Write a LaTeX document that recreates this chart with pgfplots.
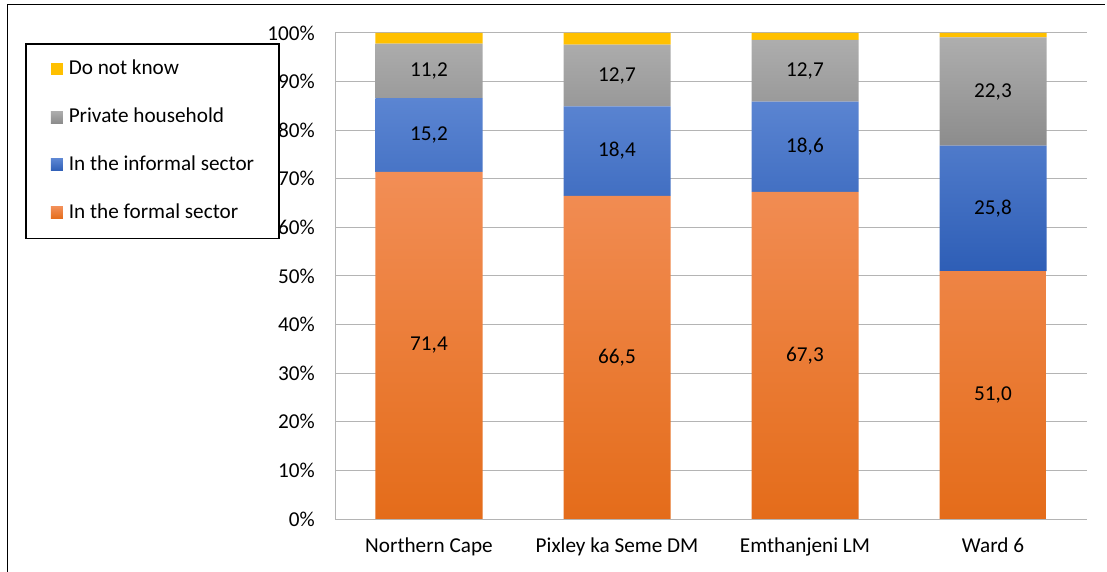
\documentclass[border=0pt]{standalone}
\usepackage{pgfplots}
\pgfplotsset{compat=1.18}
\usepackage{pgfplotstable}
\usepackage{fontspec}
\setmainfont{Carlito}

\definecolor{orTop}{HTML}{F28E56}
\definecolor{orBot}{HTML}{E46C1A}
\definecolor{blTop}{HTML}{5B85D2}
\definecolor{blBot}{HTML}{2E5EB6}
\definecolor{grTop}{HTML}{AEAEAE}
\definecolor{grBot}{HTML}{8C8C8C}
\definecolor{yel}{HTML}{FFC000}
\definecolor{gridc}{HTML}{B4B4B4}

% employment sector shares (%)
\pgfplotstableread{
x formal informal household dnk
0 71.4 15.2 11.2 2.2
1 66.5 18.4 12.7 2.4
2 67.3 18.6 12.7 1.4
3 51.0 25.8 22.3 0.9
}\shares

\begin{document}
\begin{tikzpicture}
\fontsize{21.2bp}{25bp}\selectfont
\useasboundingbox (0,0) rectangle (1107bp,572bp);
\draw[line width=1.5bp] (7.5bp,0) -- (7.5bp,567.5bp) -- (1105bp,567.5bp);
\begin{axis}[
  at={(335bp,53bp)}, anchor=south west,
  scale only axis, width=752bp, height=486bp,
  ybar stacked, bar width=107bp,
  xmin=-0.5, xmax=3.5, ymin=0, ymax=100,
  xtick=data,
  xticklabels={Northern Cape, Pixley ka Seme DM, Emthanjeni LM, Ward 6},
  ytick={0,10,...,100},
  yticklabel={\pgfmathprintnumber{\tick}\%},
  /pgf/number format/assume math mode=true,
  major tick length=0pt,
  ymajorgrids, major grid style={gridc, line width=1bp},
  axis x line*=bottom, axis y line*=left,
  axis line style={gridc, line width=1bp},
  yticklabel style={xshift=-13bp},
  xticklabel style={yshift=-12bp},
  nodes near coords={\pgfmathprintnumber[fixed,fixed zerofill,precision=1,use comma]{\pgfplotspointmeta}},
  every node near coord/.style={anchor=center, text=black},
  legend image code/.code={\fill[#1,draw=none] (0bp,-6bp) rectangle (12bp,6bp); \path (18bp,0bp);},
  reverse legend,
  legend cell align=left,
  legend style={at={(axis description cs:-0.4122,0.9794)}, anchor=north west,
    draw=black, line width=1.5bp, inner xsep=25bp, inner ysep=14.5bp,
    row sep=26bp, fill=white, nodes={inner xsep=0bp}},
]
\addplot[draw=none, top color=orTop, bottom color=orBot]
  table[x=x, y=formal] {\shares};
\addlegendentry{In the formal sector}
\addplot[draw=none, top color=blTop, bottom color=blBot]
  table[x=x, y=informal] {\shares};
\addlegendentry{In the informal sector}
\addplot[draw=none, top color=grTop, bottom color=grBot]
  table[x=x, y=household] {\shares};
\addlegendentry{Private household}
\addplot[draw=none, fill=yel, nodes near coords={}]
  table[x=x, y=dnk] {\shares};
\addlegendentry{Do not know}
\end{axis}
\end{tikzpicture}
\end{document}
